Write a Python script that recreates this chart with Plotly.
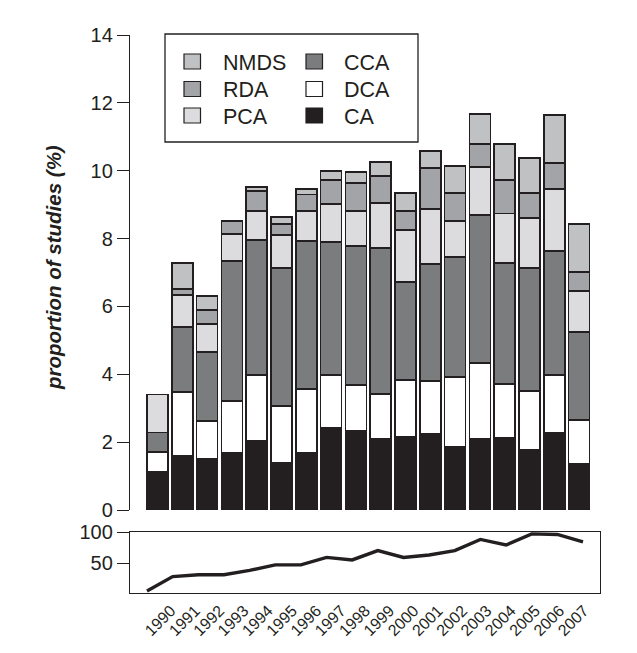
import plotly.graph_objects as go

years = [str(y) for y in range(1990, 2008)]
year_nums = list(range(1990, 2008))

CA   = [1.13, 1.61, 1.52, 1.69, 2.03, 1.40, 1.69, 2.43, 2.34, 2.11, 2.17, 2.23, 1.87, 2.11, 2.14, 1.78, 2.28, 1.37]
DCA  = [0.57, 1.87, 1.11, 1.53, 1.95, 1.66, 1.88, 1.55, 1.35, 1.31, 1.67, 1.58, 2.06, 2.23, 1.58, 1.73, 1.70, 1.29]
CCA  = [0.58, 1.92, 2.03, 4.12, 3.98, 4.08, 4.36, 3.92, 4.10, 4.31, 2.89, 3.45, 3.53, 4.36, 3.57, 3.63, 3.66, 2.59]
PCA  = [1.12, 0.94, 0.83, 0.80, 0.86, 0.97, 0.89, 1.12, 1.03, 1.32, 1.53, 1.62, 1.06, 1.41, 1.45, 1.47, 1.83, 1.21]
RDA  = [0.00, 0.18, 0.41, 0.38, 0.58, 0.32, 0.48, 0.71, 0.82, 0.80, 0.56, 1.21, 0.83, 0.68, 0.99, 0.74, 0.76, 0.56]
NMDS = [0.00, 0.77, 0.41, 0.00, 0.13, 0.21, 0.17, 0.27, 0.33, 0.41, 0.53, 0.50, 0.79, 0.89, 1.06, 1.03, 1.42, 1.41]

total_pct = [5, 28, 31, 31, 38, 47, 47, 59, 55, 70, 59, 63, 70, 88, 79, 97, 96, 84]

ink = "#231F20"
colors = {"CA": ink, "DCA": "#FFFFFF", "CCA": "#7B7C7E",
          "PCA": "#DCDCDE", "RDA": "#A3A4A7", "NMDS": "#C0C1C3"}
series = [("CA", CA), ("DCA", DCA), ("CCA", CCA),
          ("PCA", PCA), ("RDA", RDA), ("NMDS", NMDS)]
legend_cols = [["NMDS", "RDA", "PCA"], ["CCA", "DCA", "CA"]]

FONT = "Liberation Sans, Arial, Helvetica, sans-serif"
OFF = 8                      # page body margin of the browser
W, H = 637 - OFF, 653 - OFF


def px_x(p):
    return (p - OFF) / W


def px_y(p):
    return 1 - (p - OFF) / H


fig = go.Figure()
xidx = list(range(len(years)))
for name, vals in series:
    fig.add_trace(go.Bar(
        x=xidx, y=vals, name=name, showlegend=False,
        marker=dict(color=colors[name], line=dict(color=ink, width=1.7)),
        width=0.85, xaxis="x", yaxis="y",
    ))

fig.add_trace(go.Scatter(
    x=year_nums, y=total_pct, mode="lines", showlegend=False,
    line=dict(color=ink, width=3.4), xaxis="x2", yaxis="y2",
))
# invisible helper trace for the rotated year labels axis
fig.add_trace(go.Scatter(
    x=year_nums, y=total_pct, mode="lines", showlegend=False,
    line=dict(color="rgba(0,0,0,0)", width=0), hoverinfo="skip",
    xaxis="x3", yaxis="y2",
))

sp = 24.8
r0 = -(157.5 - 130) / sp
r1 = r0 + (600 - 130) / sp
sp2 = (583 - 147) / 17
q0 = 1990 - (147 - 130) / sp2
q1 = q0 + (600 - 130) / sp2
sp3 = (584 - 171) / 17
t0 = 1990 - (171 - 130) / sp3
t1 = t0 + (600 - 130) / sp3

xdom = [px_x(130), px_x(600)]

shapes = [dict(type="rect", xref="paper", yref="paper",
               x0=px_x(165), x1=px_x(418), y0=px_y(142), y1=px_y(34),
               line=dict(color=ink, width=1.3), fillcolor="rgba(0,0,0,0)")]
annotations = [dict(text="<b><i>proportion of studies (%)</i></b>",
                    xref="paper", yref="paper", x=px_x(53), y=px_y(268),
                    xanchor="center", yanchor="middle",
                    textangle=-90, showarrow=False,
                    font=dict(size=20.5, family=FONT, color=ink))]

sq_x = [184, 306]
tx_x = [220.5, 342]
rows = [61.5, 89, 115.5]
for ci, col in enumerate(legend_cols):
    for ri, name in enumerate(col):
        cy = rows[ri]
        shapes.append(dict(type="rect", xref="paper", yref="paper",
                           x0=px_x(sq_x[ci]), x1=px_x(sq_x[ci] + 16.5),
                           y0=px_y(cy + 7.5), y1=px_y(cy - 7.5),
                           line=dict(color=ink, width=1.2),
                           fillcolor=colors[name]))
        annotations.append(dict(text=name, xref="paper", yref="paper",
                                x=px_x(tx_x[ci]), y=px_y(cy + 1),
                                xanchor="left", yanchor="middle",
                                showarrow=False,
                                font=dict(size=21.5, family=FONT, color=ink)))

fig.update_layout(
    width=W, height=H,
    margin=dict(l=0, r=0, t=0, b=0, autoexpand=False),
    paper_bgcolor="white", plot_bgcolor="rgba(0,0,0,0)",
    barmode="stack", showlegend=False,
    font=dict(family=FONT, color=ink, size=20),
    xaxis=dict(domain=xdom, range=[r0, r1],
               showticklabels=False, ticks="", showline=False, automargin=False,
               showgrid=False, zeroline=False, anchor="y"),
    yaxis=dict(domain=[px_y(510), px_y(35)], range=[0, 14],
               tickvals=[0, 2, 4, 6, 8, 10, 12, 14], automargin=False,
               ticks="outside", ticklen=12, tickwidth=1.3, tickcolor=ink,
               showline=True, linecolor=ink, linewidth=1.3,
               showgrid=False, zeroline=False, anchor="x",
               tickfont=dict(size=20, family=FONT, color=ink)),
    xaxis2=dict(domain=xdom, range=[q0, q1],
                showticklabels=False, automargin=False,
                ticks="", showline=True, mirror=True, linecolor=ink, linewidth=1.3,
                showgrid=False, zeroline=False, anchor="y2"),
    xaxis3=dict(domain=xdom, range=[t0, t1], overlaying="x2",
                tickvals=year_nums, ticktext=years, tickangle=-45, automargin=False,
                ticks="outside", ticklen=1, tickcolor="rgba(0,0,0,0)",
                showline=False, showgrid=False, zeroline=False, anchor="y2",
                side="bottom",
                tickfont=dict(size=16, family=FONT, color=ink)),
    yaxis2=dict(domain=[px_y(593), px_y(532)], range=[1.6, 100],
                tickvals=[50, 100], automargin=False,
                ticks="outside", ticklen=12, tickwidth=1.3, tickcolor=ink,
                showline=True, mirror=True, linecolor=ink, linewidth=1.3,
                showgrid=False, zeroline=False, anchor="x2",
                tickfont=dict(size=20, family=FONT, color=ink)),
    shapes=shapes,
    annotations=annotations,
)

fig.write_html("out.html")
